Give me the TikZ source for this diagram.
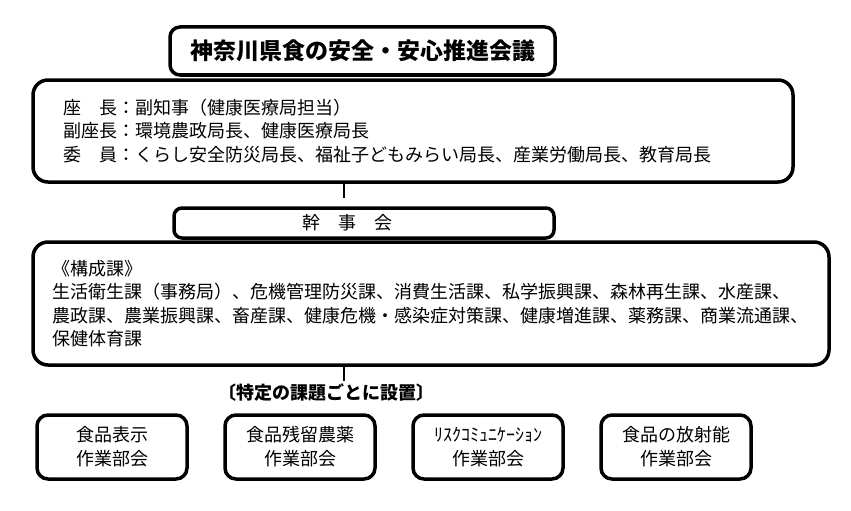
\documentclass[tikz,border=0pt]{standalone}
\usepackage{fontspec}
\setmainfont{Noto Sans CJK JP}
\usetikzlibrary{positioning}

\begin{document}
\begin{tikzpicture}[x=1pt,y=-1pt,node distance=188pt,
    box/.style={draw,line width=3.5pt,rounded corners=15pt,fill=white,font=\fontsize{18}{23.5}\selectfont},
    sub/.style={box,rounded corners=11pt,minimum width=150pt,minimum height=64pt,align=center,font=\fontsize{18}{24}\selectfont},
    link/.style={draw,line width=1.2pt}]
                \useasboundingbox (0,0) rectangle (851,511);
                \coordinate (axis) at (344,0);

                \node[box,text width=700pt,inner xsep=30pt,minimum height=102pt,align=left] (members) at (413,131)
                      {座　長：副知事（健康医療局担当）\\副座長：環境農政局長、健康医療局長\\委　員：くらし安全防災局長、福祉子どもみらい局長、産業労働局長、教育局長};
                \node[box,rounded corners=10pt,minimum width=385pt,minimum height=48pt,font=\bfseries\fontsize{23}{28}\selectfont] (title) at (362.5,51)
                      {神奈川県食の安全・安心推進会議};
                \node[box,rounded corners=8pt,minimum width=380pt,minimum height=30pt] (kanji) at (364,223)
                      {\hspace*{-34pt}幹　事　会};
                \node[box,text width=758pt,inner xsep=19pt,minimum height=123pt,align=left] (ka) at (431,303.5)
                      {《構成課》\\生活衛生課（事務局）、危機管理防災課、消費生活課、私学振興課、森林再生課、水産課、\\農政課、農業振興課、畜産課、健康危機・感染症対策課、健康増進課、薬務課、商業流通課、\\保健体育課};
                \node[font=\bfseries\fontsize{18}{22}\selectfont] (note) at (326,393) {〔特定の課題ごとに設置〕};

                \node[sub] (W1) at (112,447) {食品表示\\作業部会};
                \node[sub] (W2) [right of=W1] {食品残留農薬\\作業部会};
                \node[sub] (W3) [right of=W2] {ﾘｽｸｺﾐｭﾆｹｰｼｮﾝ\\作業部会};
                \node[sub] (W4) [right of=W3] {食品の放射能\\作業部会};

                \path[link] (members.south -| axis) -- ([yshift=8pt]kanji.north -| axis)
                      (ka.south -| axis) -- (note.north -| axis);
            \end{tikzpicture}
\end{document}
